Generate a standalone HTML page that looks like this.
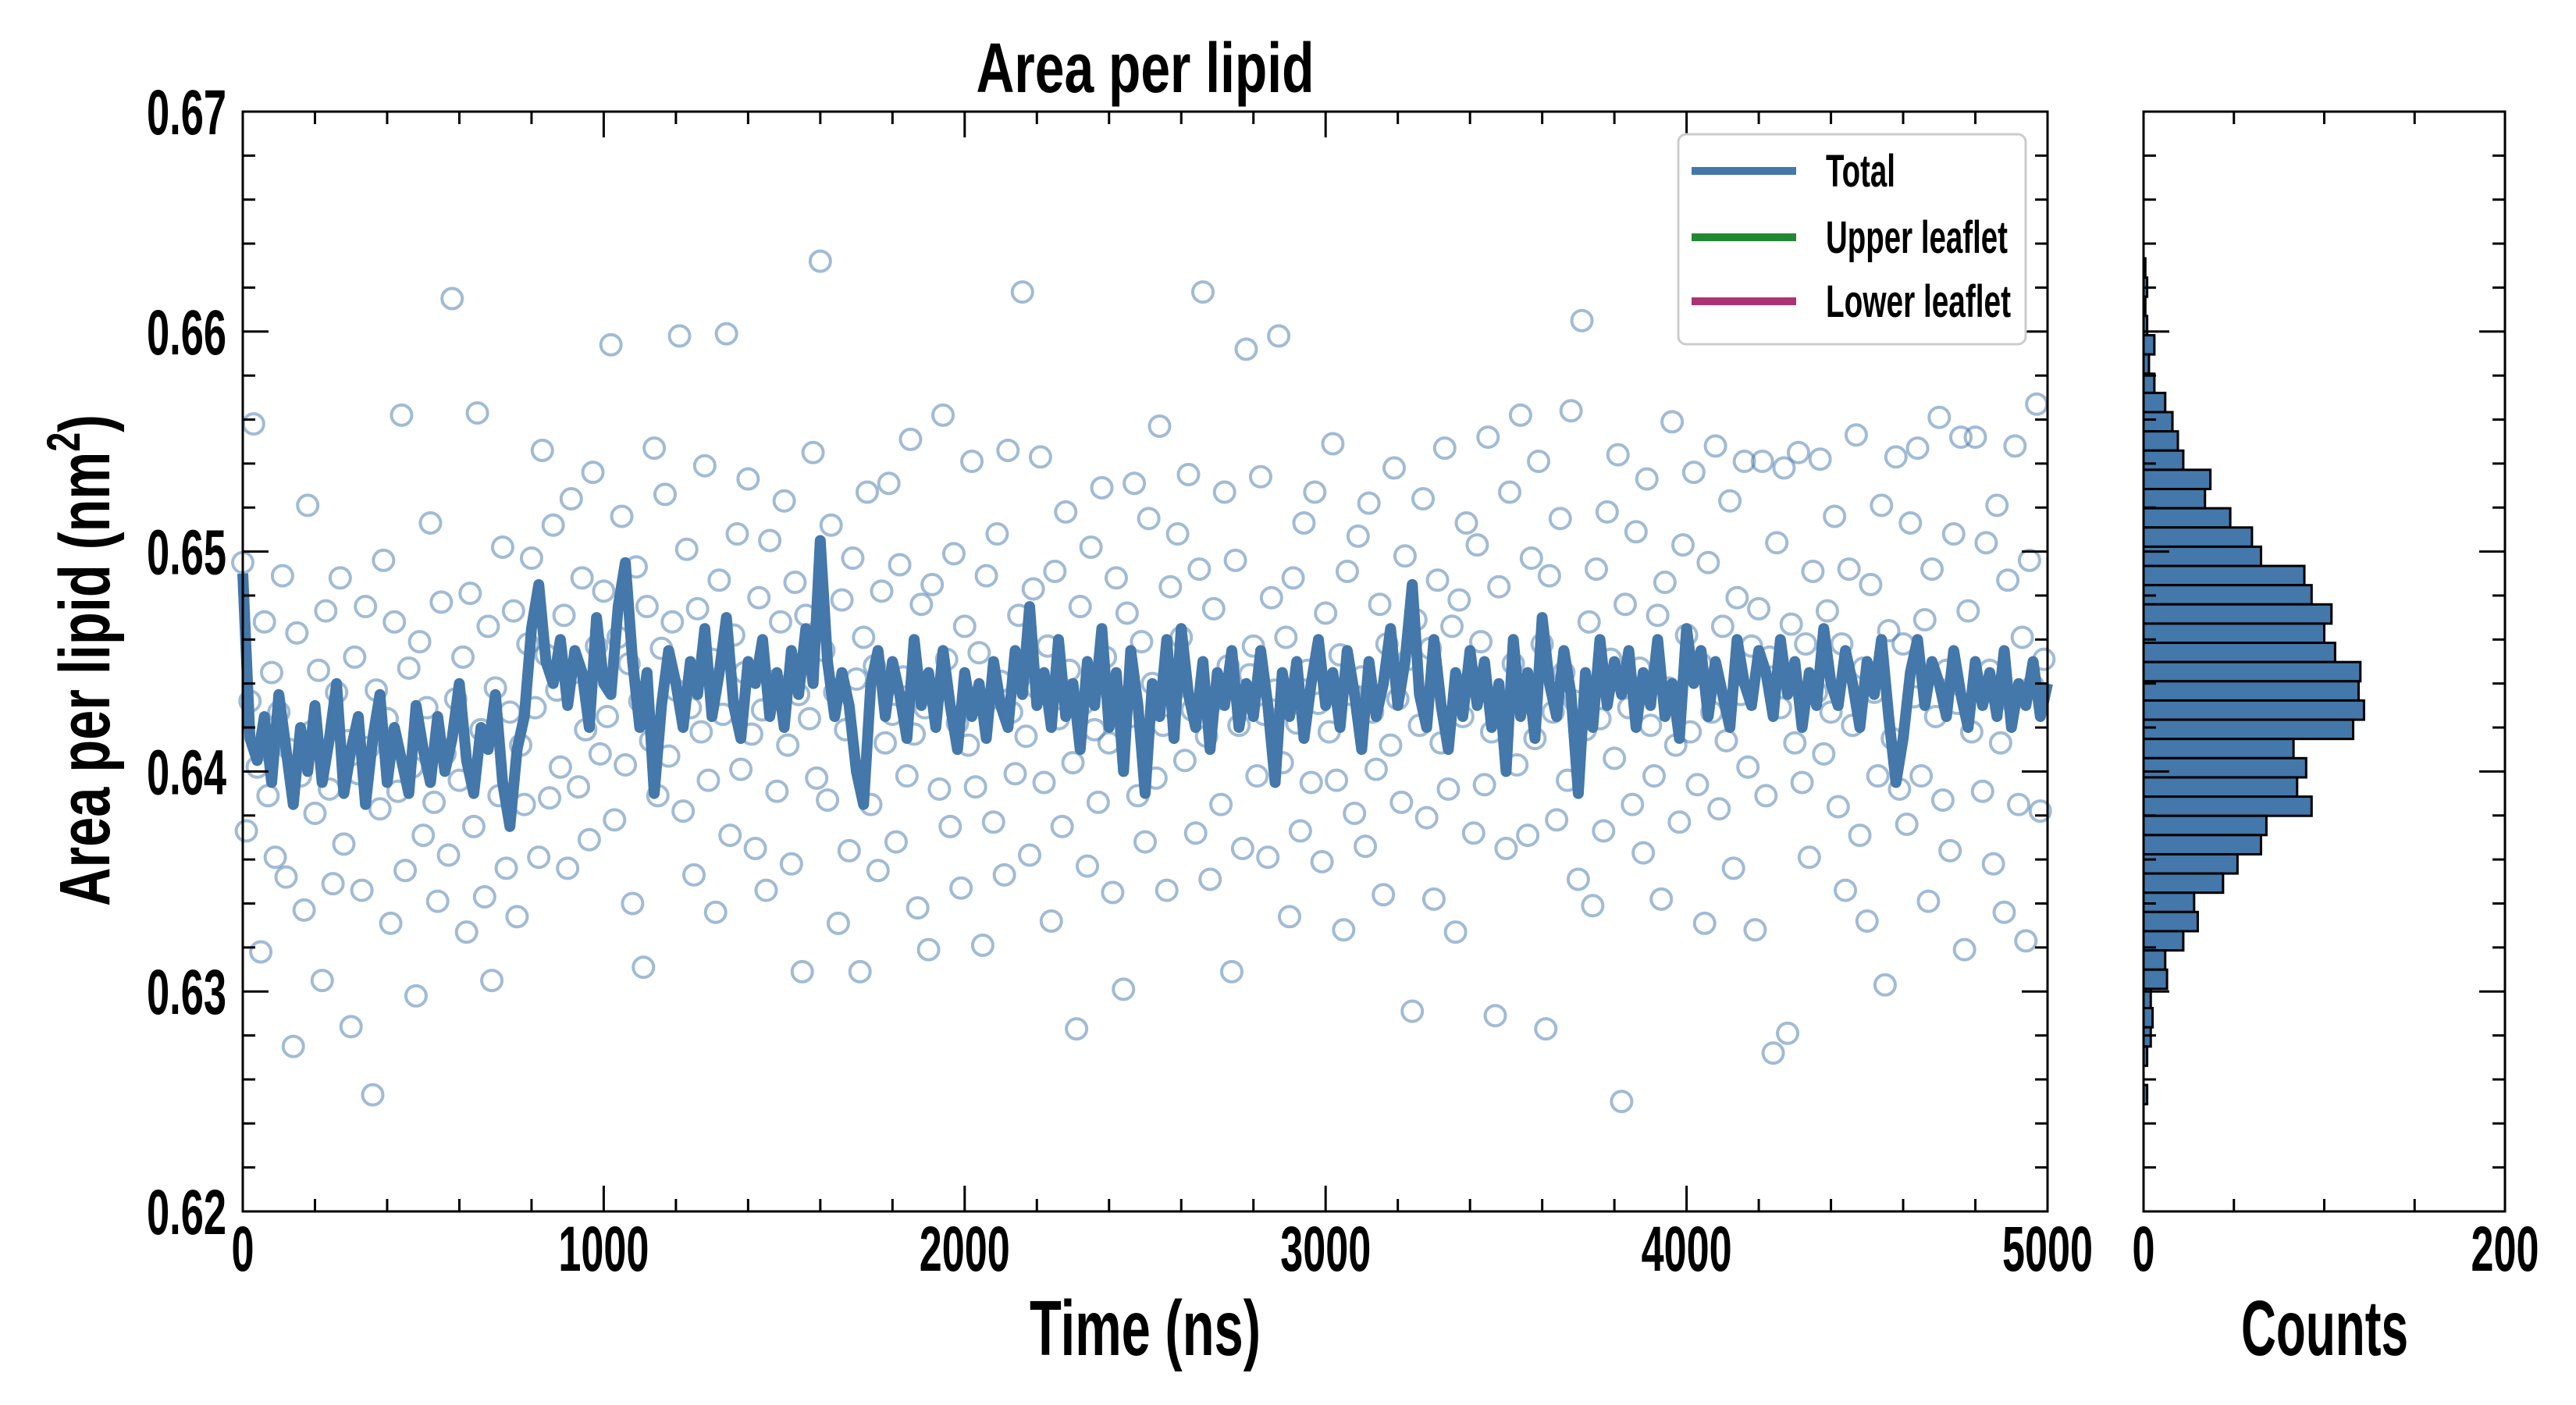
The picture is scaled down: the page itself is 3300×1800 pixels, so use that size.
<!DOCTYPE html>
<html><head><meta charset="utf-8"><style>
html,body{margin:0;padding:0;background:#fff;}
svg{display:block;}
text{font-family:"Liberation Sans Narrow","Liberation Sans",sans-serif;font-weight:bold;fill:#000;}
</style></head><body>
<svg id="chart" xmlns="http://www.w3.org/2000/svg" width="3300" height="1800" viewBox="0 0 3300 1800">
<rect x="0" y="0" width="3300" height="1800" fill="#fff"/>
<g id="scatter"></g>
<g id="line"></g>
<g id="hist"></g>
<g id="axes"></g>
<text x="1467" y="118" font-size="90" text-anchor="middle" textLength="433" lengthAdjust="spacingAndGlyphs">Area per lipid</text>
<text x="1467" y="1736" font-size="100" text-anchor="middle" textLength="296" lengthAdjust="spacingAndGlyphs">Time (ns)</text>
<text x="2978" y="1736" font-size="100" text-anchor="middle" textLength="214" lengthAdjust="spacingAndGlyphs">Counts</text>
<text transform="translate(140,846) rotate(-90)" font-size="92" text-anchor="middle" textLength="630" lengthAdjust="spacingAndGlyphs">Area per lipid (nm<tspan font-size="60" dy="-38">2</tspan><tspan dy="38">)</tspan></text>
<g>
<rect x="2150" y="172" width="445" height="269" rx="10" fill="#fff" stroke="#ccc" stroke-width="3"/>
<line x1="2167" y1="219" x2="2301" y2="219" stroke="#4477aa" stroke-width="10"/>
<text x="2339" y="239" font-size="58" textLength="89" lengthAdjust="spacingAndGlyphs">Total</text>
<line x1="2167" y1="304" x2="2301" y2="304" stroke="#228833" stroke-width="10"/>
<text x="2339" y="324" font-size="58" textLength="233" lengthAdjust="spacingAndGlyphs">Upper leaflet</text>
<line x1="2167" y1="386" x2="2301" y2="386" stroke="#aa3377" stroke-width="10"/>
<text x="2339" y="406" font-size="58" textLength="237" lengthAdjust="spacingAndGlyphs">Lower leaflet</text>
</g>
</svg>
<script>
const scatterDt = 10;
const scatterValues = [
.6495,.6373,.6432,.6558,.6402,.6318,.6468,.6389,.6445,.6361,.6427,.6489,.6352,.6410,.6275,.6463,.6398,.6337,.6521,.6418,
.6381,.6446,.6305,.6473,.6392,.6349,.6436,.6488,.6367,.6414,.6284,.6452,.6399,.6346,.6475,.6411,.6253,.6437,.6383,.6496,
.6424,.6331,.6468,.6391,.6562,.6355,.6447,.6402,.6298,.6459,.6371,.6429,.6513,.6386,.6341,.6477,.6408,.6362,.6615,.6433,
.6396,.6452,.6327,.6481,.6375,.6563,.6419,.6343,.6466,.6305,.6438,.6389,.6502,.6356,.6427,.6473,.6334,.6412,.6385,.6458,
.6497,.6429,.6361,.6546,.6453,.6388,.6512,.6437,.6402,.6471,.6356,.6524,.6445,.6393,.6488,.6419,.6369,.6536,.6457,.6408,
.6482,.6425,.6594,.6378,.6461,.6516,.6403,.6449,.6340,.6493,.6432,.6311,.6475,.6414,.6547,.6389,.6456,.6526,.6407,.6468,
.6437,.6598,.6382,.6501,.6429,.6353,.6474,.6418,.6539,.6396,.6451,.6336,.6487,.6426,.6599,.6371,.6462,.6508,.6401,.6445,
.6533,.6417,.6365,.6479,.6428,.6346,.6505,.6441,.6391,.6468,.6523,.6412,.6358,.6486,.6435,.6309,.6471,.6424,.6545,.6397,
.6632,.6455,.6387,.6512,.6436,.6331,.6478,.6419,.6364,.6497,.6442,.6309,.6461,.6527,.6385,.6448,.6355,.6482,.6413,.6531,
.6426,.6368,.6494,.6443,.6398,.6551,.6417,.6338,.6476,.6429,.6319,.6485,.6437,.6392,.6562,.6451,.6375,.6499,.6422,.6347,
.6466,.6412,.6541,.6393,.6454,.6321,.6489,.6433,.6377,.6508,.6441,.6353,.6546,.6427,.6399,.6471,.6618,.6416,.6362,.6483,
.6438,.6543,.6395,.6457,.6332,.6491,.6424,.6375,.6518,.6446,.6404,.6283,.6475,.6431,.6357,.6502,.6419,.6386,.6529,.6452,
.6413,.6345,.6488,.6434,.6301,.6472,.6425,.6531,.6389,.6459,.6368,.6515,.6440,.6397,.6557,.6421,.6346,.6484,.6437,.6508,
.6461,.6405,.6535,.6428,.6372,.6492,.6618,.6416,.6351,.6474,.6433,.6385,.6527,.6448,.6309,.6496,.6421,.6365,.6592,.6444,
.6457,.6398,.6534,.6426,.6361,.6479,.6437,.6598,.6404,.6461,.6334,.6488,.6422,.6373,.6513,.6446,.6395,.6527,.6431,.6359,
.6472,.6418,.6549,.6396,.6453,.6328,.6491,.6435,.6381,.6507,.6443,.6366,.6522,.6427,.6401,.6476,.6344,.6458,.6412,.6538,
.6433,.6386,.6498,.6451,.6291,.6469,.6421,.6524,.6379,.6456,.6342,.6487,.6413,.6547,.6392,.6466,.6327,.6478,.6425,.6513,
.6441,.6372,.6503,.6459,.6394,.6552,.6418,.6289,.6484,.6431,.6365,.6527,.6449,.6403,.6562,.6436,.6371,.6497,.6415,.6541,
.6458,.6283,.6489,.6427,.6378,.6515,.6445,.6396,.6564,.6432,.6351,.6605,.6419,.6468,.6339,.6492,.6424,.6373,.6518,.6451,
.6406,.6544,.6250,.6476,.6429,.6385,.6509,.6447,.6363,.6533,.6421,.6398,.6471,.6342,.6486,.6438,.6559,.6412,.6377,.6503,
.6462,.6418,.6536,.6394,.6449,.6331,.6495,.6427,.6548,.6383,.6466,.6414,.6523,.6356,.6479,.6435,.6541,.6402,.6457,.6328,
.6474,.6541,.6389,.6452,.6272,.6504,.6429,.6538,.6281,.6467,.6413,.6545,.6395,.6458,.6361,.6491,.6436,.6542,.6408,.6473,
.6427,.6516,.6384,.6458,.6346,.6492,.6421,.6553,.6371,.6447,.6332,.6485,.6436,.6398,.6521,.6303,.6464,.6415,.6543,.6392,
.6458,.6376,.6513,.6434,.6547,.6398,.6469,.6341,.6492,.6425,.6561,.6387,.6446,.6364,.6508,.6431,.6552,.6319,.6473,.6418,
.6552,.6437,.6391,.6504,.6446,.6358,.6521,.6413,.6336,.6487,.6432,.6548,.6385,.6461,.6323,.6496,.6439,.6567,.6382,.6451
];
const lineDt = 20;
const lineValues = [
.6490,.6415,.6405,.6425,.6395,.6435,.6410,.6385,.6420,.6400,
.6430,.6395,.6415,.6440,.6390,.6410,.6425,.6385,.6415,.6435,
.6395,.6420,.6405,.6390,.6430,.6410,.6395,.6425,.6400,.6415,
.6440,.6405,.6390,.6420,.6410,.6435,.6395,.6375,.6410,.6425,
.6465,
.6485,.6450,.6440,.6460,.6430,.6455,.6445,.6420,.6470,.6440,
.6435,.6475,.6495,.6450,.6420,.6445,.6390,.6430,.6455,.6440,
.6420,.6450,.6435,.6465,.6425,.6445,.6470,.6430,.6415,.6450,
.6440,.6460,.6425,.6445,.6420,.6455,.6435,.6465,.6440,.6505,
.6450,.6425,.6445,.6430,.6400,.6385,.6440,.6455,.6425,.6450,
.6435,.6415,.6460,.6430,.6445,.6420,.6455,.6430,.6410,.6445,
.6425,.6440,.6415,.6450,.6430,.6420,.6455,.6435,.6475,.6430,
.6445,.6420,.6460,.6425,.6440,.6410,.6450,.6430,.6465,.6420,
.6445,.6400,.6455,.6430,.6390,.6440,.6425,.6460,.6415,.6465,
.6435,.6420,.6450,.6410,.6445,.6430,.6455,.6420,.6440,.6425,
.6455,.6430,.6395,.6445,.6425,.6450,.6415,.6440,.6460,.6430,
.6445,.6420,.6455,.6435,.6410,.6450,.6425,.6440,.6465,.6430,
.6450,.6485,.6435,.6420,.6460,.6430,.6410,.6445,.6425,.6455,
.6430,.6450,.6420,.6440,.6400,.6460,.6425,.6445,.6415,.6470,
.6440,.6425,.6455,.6435,.6390,.6445,.6420,.6460,.6430,.6450,
.6435,.6455,.6420,.6445,.6430,.6460,.6425,.6440,.6415,.6465,
.6440,.6455,.6425,.6450,.6435,.6420,.6460,.6440,.6430,.6455,
.6445,.6425,.6460,.6435,.6450,.6420,.6445,.6430,.6465,.6440,
.6430,.6455,.6440,.6420,.6450,.6435,.6460,.6425,.6395,.6415,
.6445,.6460,.6430,.6450,.6440,.6425,.6455,.6435,.6420,.6450,
.6430,.6445,.6425,.6455,.6420,.6440,.6430,.6450,.6425,.6440
];
const histBinTop = 0.66333;
const histBinWidth = 0.000874;
const histCountsHighToLow = [1,2,1,2,6,3,6,12,16,19,22,37,34,48,60,65,89,93,104,100,106,120,119,122,116,83,90,85,93,68,65,52,44,28,30,22,12,13,4,5,4,2,0,2];
const yTickValues = [0.62,0.63,0.64,0.65,0.66,0.67];
const yTickLabels = ["0.62","0.63","0.64","0.65","0.66","0.67"];
const xTickValues = [0,1000,2000,3000,4000,5000];
const xTickLabels = ["0","1000","2000","3000","4000","5000"];
const hTickValues = [0,200];
const hTickLabels = ["0","200"];

const NS="http://www.w3.org/2000/svg";
const L=311,R=2623,T=143,B=1552,HL=2746,HR=3209;
const X=t=>L+t/5000*(R-L);
const Y=v=>T+(0.67-v)/0.05*(B-T);
const HX=c=>HL+c/200*(HR-HL);
function mk(tag,attrs,parent){const e=document.createElementNS(NS,tag);for(const k in attrs)e.setAttribute(k,attrs[k]);parent.appendChild(e);return e;}

const sc=document.getElementById('scatter');
scatterValues.forEach((v,i)=>{
  const c=mk('circle',{cx:X(i*scatterDt),cy:Y(v),r:13,fill:'none',stroke:'#4477aa','stroke-width':4,'stroke-opacity':0.5},sc);
  
  
});
const lg=document.getElementById('line');
const pts=lineValues.map((v,i)=>X(i*lineDt).toFixed(1)+','+Y(v).toFixed(1)).join(' ');
const pl=mk('polyline',{points:pts,fill:'none',stroke:'#4477aa','stroke-width':14,'stroke-linejoin':'round'},lg);



const hg=document.getElementById('hist');
histCountsHighToLow.forEach((c,i)=>{
  const top=histBinTop-i*histBinWidth;
  const y1=Y(top),y2=Y(top-histBinWidth);
  if(c<=0)return;
  const r=mk('rect',{x:HL,y:y1,width:HX(c)-HL,height:y2-y1,fill:'#4477aa',stroke:'#000','stroke-width':3},hg);
  
  
});

const ax=document.getElementById('axes');
function frame(x1,x2,name){
  const f=mk('rect',{x:x1,y:T,width:x2-x1,height:B-T,fill:'none',stroke:'#000','stroke-width':3},ax);
  
  
}
frame(L,R,'main-plot-frame');
frame(HL,HR,'histogram-frame');
function ln(x1,y1,x2,y2){mk('line',{x1,y1,x2,y2,stroke:'#000','stroke-width':3},ax);}
for(let t=0;t<=5000;t+=200){const x=X(t);const len=(t%1000===0)?33:16;ln(x,B,x,B-len);ln(x,T,x,T+len);}
for(let k=0;k<=25;k++){const v=0.62+k*0.002;const y=Y(v);const len=(k%5===0)?33:16;
  ln(L,y,L+len,y);ln(R,y,R-len,y);ln(HL,y,HL+len,y);ln(HR,y,HR-len,y);}
for(let c=50;c<200;c+=50){const x=HX(c);ln(x,B,x,B-16);ln(x,T,x,T+16);}
yTickValues.forEach((v,i)=>{
  const t=mk('text',{x:290,y:Y(v)+29,'font-size':82,'text-anchor':'end',textLength:102,lengthAdjust:'spacingAndGlyphs'},ax);
  t.textContent=yTickLabels[i];
  
  
});
xTickValues.forEach((v,i)=>{
  const lab=xTickLabels[i];
  const t=mk('text',{x:X(v),y:1628,'font-size':82,'text-anchor':'middle',textLength:lab.length*29,lengthAdjust:'spacingAndGlyphs'},ax);
  t.textContent=lab;
  
  
});
hTickValues.forEach((v,i)=>{
  const lab=hTickLabels[i];
  const t=mk('text',{x:HX(v),y:1628,'font-size':82,'text-anchor':'middle',textLength:lab.length*29,lengthAdjust:'spacingAndGlyphs'},ax);
  t.textContent=lab;
  
  
});
</script>
</body></html>
